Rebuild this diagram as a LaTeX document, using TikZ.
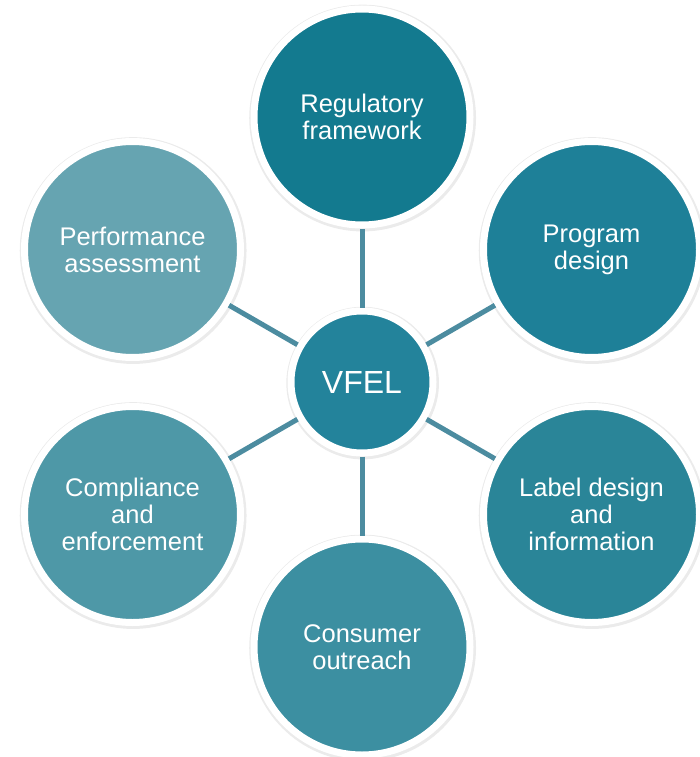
\documentclass[tikz,border=0pt]{standalone}
\usepackage{fontspec}
\setmainfont{Liberation Sans}
\usetikzlibrary{shadows}
\definecolor{hubfill}{RGB}{35,131,155}
\definecolor{regfill}{RGB}{19,122,143}
\definecolor{progfill}{RGB}{30,128,152}
\definecolor{labfill}{RGB}{42,133,152}
\definecolor{consfill}{RGB}{60,143,161}
\definecolor{compfill}{RGB}{78,152,167}
\definecolor{perffill}{RGB}{102,164,177}
\definecolor{spokecol}{RGB}{76,140,160}

\begin{document}
\begin{tikzpicture}[x=1pt, y=-1pt,
  topic/.style={circle, minimum size=216pt, inner sep=0pt, draw=white, line width=7pt,
    text=white, align=center, font=\fontsize{25.5}{27}\selectfont,
    drop shadow={opacity=0.16, shadow scale=1.05, shadow xshift=0.6pt, shadow yshift=-1pt}},
  hub/.style={circle, minimum size=142pt, inner sep=0pt, draw=white, line width=7pt,
    text=white, font=\fontsize{32}{36}\selectfont,
    drop shadow={opacity=0.16, shadow scale=1.075, shadow xshift=0.6pt, shadow yshift=-1pt}},
  spoke/.style={draw=spokecol, line width=5pt}]
  \useasboundingbox (0,0) rectangle (700,757);
  \coordinate (c) at (362,382);
  \path (c) ++(0,265) coordinate (pbot);
  \path (c) ++(0,-265) coordinate (ptop);
  \path (c) ++(229.5,-132.5) coordinate (pur);
  \path (c) ++(229.5,132.5) coordinate (plr);
  \path (c) ++(-229.5,-132.5) coordinate (pul);
  \path (c) ++(-229.5,132.5) coordinate (pll);
  \node[hub, fill=hubfill] (vfel) at (c) {VFEL};
  \node[topic, fill=regfill] (reg) at (ptop) {Regulatory\\framework};
  \node[topic, fill=progfill] (prog) at (pur) {Program\\design};
  \node[topic, fill=labfill] (lab) at (plr) {Label design\\and\\information};
  \node[topic, fill=consfill] (cons) at (pbot) {Consumer\\outreach};
  \node[topic, fill=compfill] (comp) at (pll) {Compliance\\and\\enforcement};
  \node[topic, fill=perffill] (perf) at (pul) {Performance\\assessment};
  \draw[spoke] (vfel) -- (reg);
  \draw[spoke] (vfel) -- (prog);
  \draw[spoke] (vfel) -- (lab);
  \draw[spoke] (vfel) -- (cons);
  \draw[spoke] (vfel) -- (comp);
  \draw[spoke] (vfel) -- (perf);
\end{tikzpicture}
\end{document}
